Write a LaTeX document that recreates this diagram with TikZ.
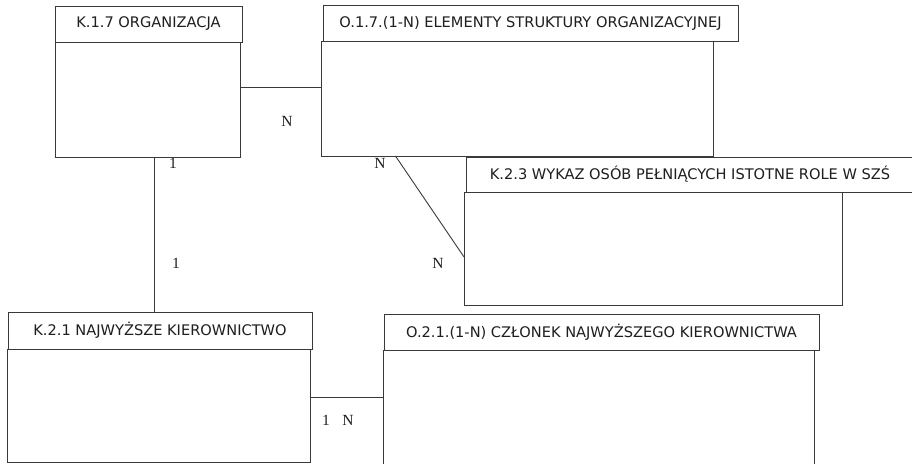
\documentclass[tikz,border=0pt]{standalone}
\usepackage{fontspec}
\setmainfont{DejaVu Sans}
\newfontfamily\labelfont{Liberation Serif}
\usetikzlibrary{calc}
\definecolor{edge}{HTML}{3A3A3A}
\definecolor{ink}{HTML}{1E1E1E}
\tikzset{
  box/.style={draw=edge, line width=1pt, inner sep=0pt, outer sep=0pt, anchor=north west, fill=white},
  headfont/.style={font=\fontsize{14.6}{16}\selectfont, text=ink},
  head/.style={box, headfont},
  link/.style={draw=edge, line width=0.9pt},
  card/.style={font=\labelfont\fontsize{15.5}{17}\selectfont, text=ink, inner sep=0pt}
}
\begin{document}
\begin{tikzpicture}[x=1pt,y=-1pt]
\useasboundingbox (0,0) rectangle (912,463);
% K.1.7
\node[box, minimum width=185pt, minimum height=115pt] (b1) at (55,42) {};
\node[head, minimum width=187pt, minimum height=36pt] (h1) at (55,6) {K.1.7 ORGANIZACJA};
% O.1.7
\node[box, minimum width=392pt, minimum height=115pt] (b2) at (321,41) {};
\node[head, minimum width=415pt, minimum height=36pt] (h2) at (323,5) {O.1.7.(1-N) ELEMENTY STRUKTURY ORGANIZACYJNEJ};
% K.2.3
\node[box, minimum width=378pt, minimum height=113pt] (b3) at (464,192) {};
\node[head, minimum width=450pt, minimum height=35pt] (h3) at (466,157) {};
\node[headfont] (t3) at (690,174.5) {K.2.3 WYKAZ OSÓB PEŁNIĄCYCH ISTOTNE ROLE W SZŚ};
% K.2.1
\node[box, minimum width=303pt, minimum height=113pt] (b4) at (7,349) {};
\node[head, minimum width=304pt, minimum height=37pt] (h4) at (8,312) {K.2.1 NAJWYŻSZE KIEROWNICTWO};
% O.2.1
\node[box, minimum width=431pt, minimum height=130pt] (b5) at (383,350) {};
\node[head, minimum width=435pt, minimum height=36pt] (h5) at (384,314) {O.2.1.(1-N) CZŁONEK NAJWYŻSZEGO KIEROWNICTWA};
% connectors
\coordinate (p1) at ($(b1.north east)!0.391!(b1.south east)$);
\draw[link] (p1) -- (p1 -| b2.west);
\coordinate (p2) at ($(b1.south west)!0.54!(b1.south east)$);
\draw[link] (p2) -- (p2 |- h4.north);
\coordinate (p3) at ($(b2.south west)!0.19!(b2.south east)$);
\coordinate (p4) at ($(b3.north west)!0.575!(b3.south west)$);
\draw[link] (p3) -- (p4);
\coordinate (p5) at ($(b4.north east)!0.425!(b4.south east)$);
\draw[link] (p5) -- (p5 -| b5.west);
% cardinalities
\node[card] (n1) at (287,121) {N};
\node[card] (n2) at (173,163) {1};
\node[card] (n3) at (176,263) {1};
\node[card] (n4) at (380,163) {N};
\node[card] (n5) at (438,263) {N};
\node[card] (n6) at (326,420) {1};
\node[card] (n7) at (348,420) {N};
\end{tikzpicture}
\end{document}
